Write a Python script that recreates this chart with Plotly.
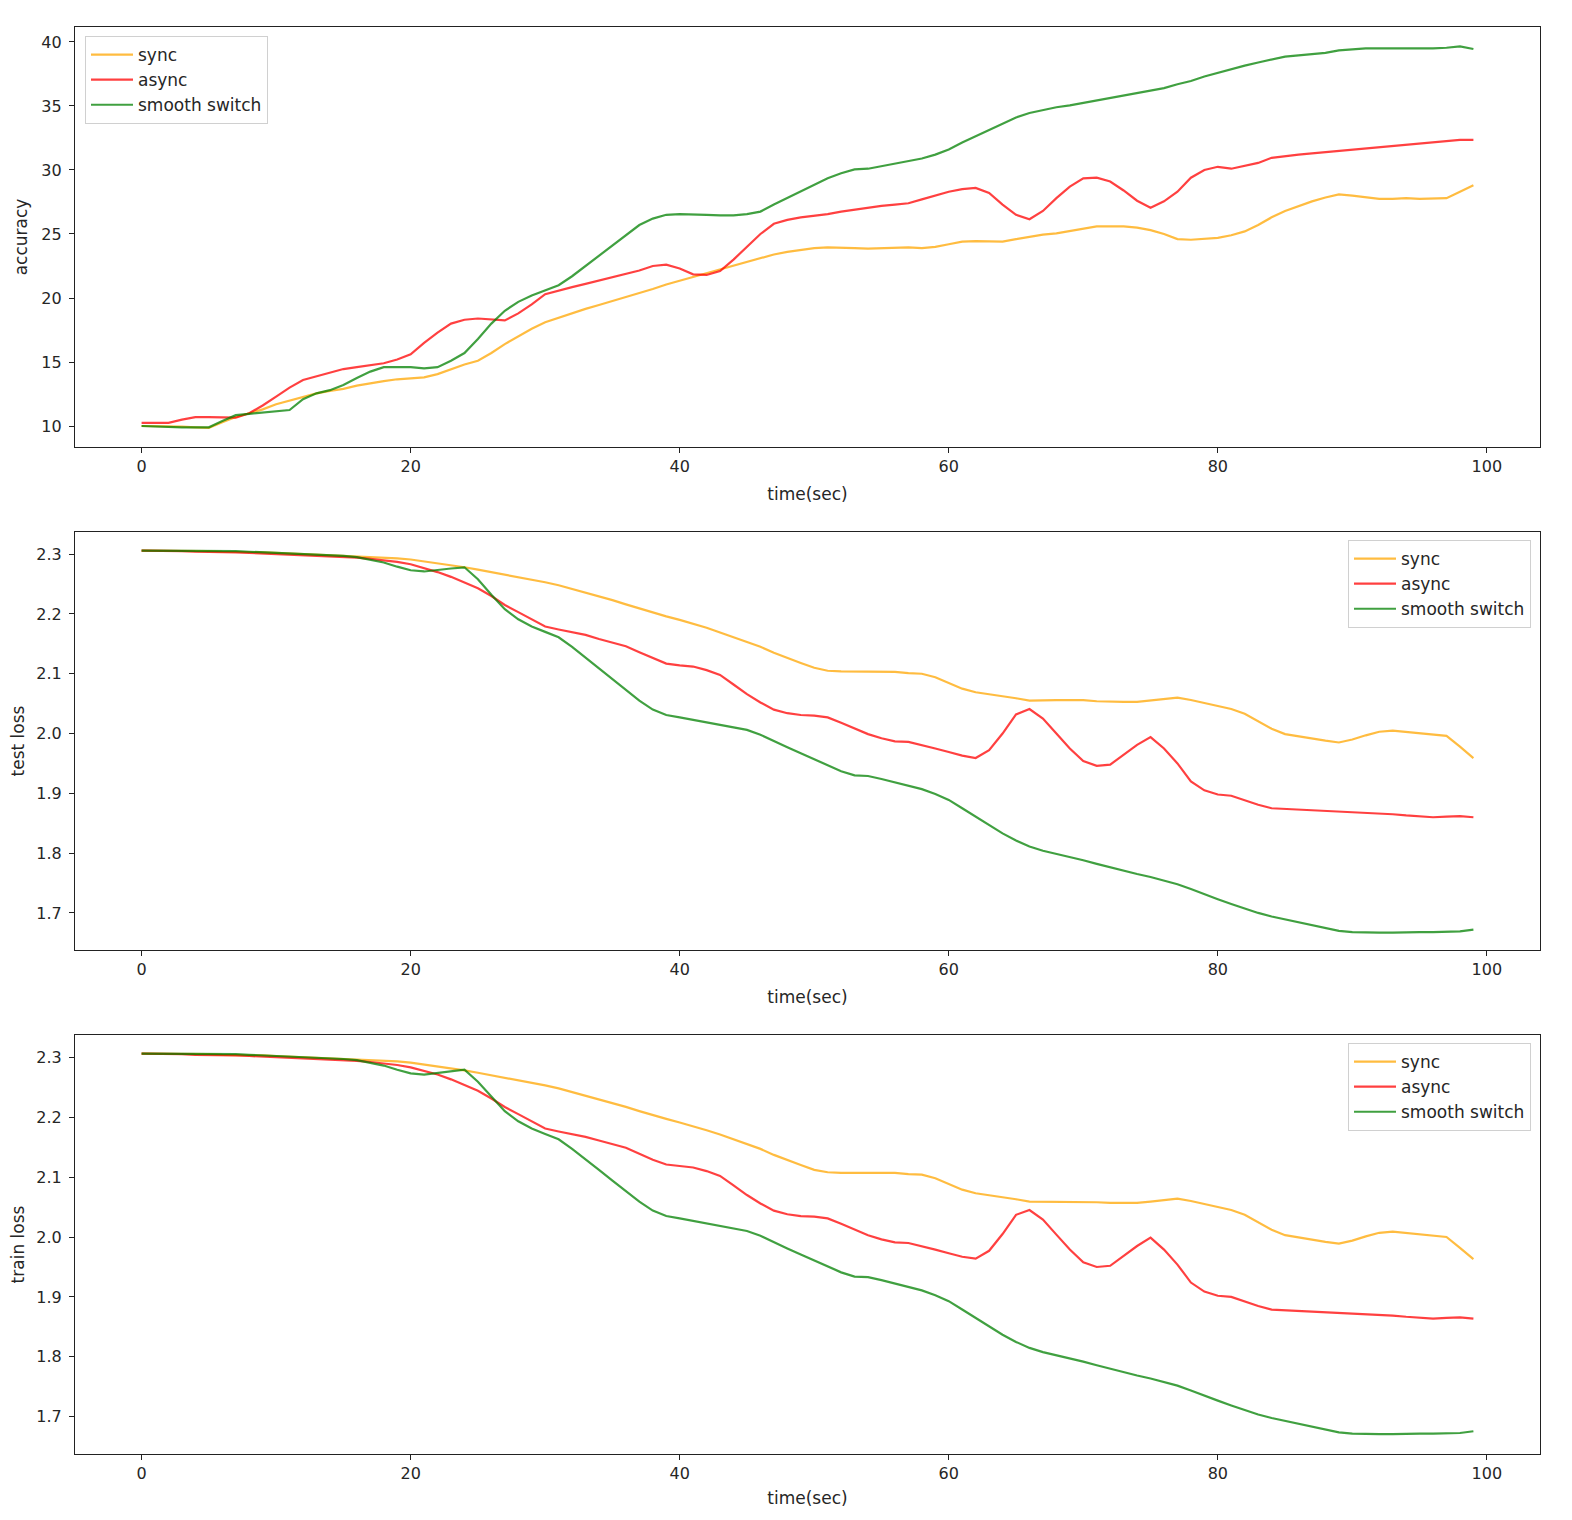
import plotly.graph_objects as go

# ---------------- data ----------------
time_sec = list(range(100))

acc_sync = [10.0, 10.0, 10.0, 9.95, 9.9, 9.85, 10.3, 10.7, 11.0, 11.3,
            11.7, 12.0, 12.3, 12.55, 12.75, 12.9, 13.15, 13.35, 13.5, 13.65,
            13.7, 13.8, 14.05, 14.45, 14.8, 15.1, 15.7, 16.4, 17.0, 17.6,
            18.1, 18.45, 18.85, 19.15, 19.45, 19.75, 20.05, 20.35, 20.7, 21.05,
            21.35, 21.65, 21.9, 22.2, 22.5, 22.85, 23.15, 23.4, 23.6, 23.75,
            23.9, 23.95, 23.95, 23.9, 23.85, 23.9, 23.95, 23.95, 23.9, 24.0,
            24.2, 24.4, 24.45, 24.4, 24.4, 24.6, 24.8, 24.95, 25.05, 25.25,
            25.45, 25.6, 25.6, 25.6, 25.5, 25.3, 25.0, 24.6, 24.55, 24.6,
            24.7, 24.9, 25.2, 25.7, 26.3, 26.8, 27.2, 27.55, 27.85, 28.1,
            28.0, 27.85, 27.75, 27.75, 27.8, 27.75, 27.75, 27.8, 28.3, 28.8]

acc_async = [10.25, 10.25, 10.25, 10.5, 10.7, 10.7, 10.7, 10.65, 11.0, 11.6,
             12.3, 13.0, 13.6, 13.9, 14.2, 14.45, 14.6, 14.75, 14.9, 15.2,
             15.6, 16.5, 17.3, 18.0, 18.3, 18.4, 18.35, 18.25, 18.8, 19.5,
             20.3, 20.6, 20.85, 21.1, 21.35, 21.6, 21.85, 22.15, 22.5, 22.6,
             22.3, 21.85, 21.8, 22.1, 23.0, 24.0, 25.0, 25.8, 26.1, 26.3,
             26.4, 26.55, 26.75, 26.9, 27.1, 27.2, 27.3, 27.4, 27.7, 28.0,
             28.3, 28.5, 28.6, 28.2, 27.3, 26.5, 26.15, 26.8, 27.8, 28.7,
             29.35, 29.4, 29.1, 28.4, 27.6, 27.05, 27.55, 28.3, 29.4, 30.0,
             30.25, 30.1, 30.35, 30.55, 30.95, 31.1, 31.2, 31.3, 31.4, 31.5,
             31.6, 31.7, 31.8, 31.9, 32.0, 32.1, 32.2, 32.3, 32.35, 32.35]

acc_smooth = [10.0, 9.95, 9.95, 9.9, 9.9, 9.9, 10.4, 10.85, 10.95, 11.05,
              11.15, 11.25, 12.1, 12.55, 12.8, 13.2, 13.75, 14.25, 14.6, 14.6,
              14.6, 14.5, 14.6, 15.1, 15.7, 16.8, 18.0, 19.0, 19.7, 20.2,
              20.6, 21.0, 21.7, 22.5, 23.3, 24.1, 24.9, 25.7, 26.2, 26.5,
              26.55, 26.55, 26.5, 26.45, 26.45, 26.55, 26.75, 27.3, 27.8, 28.35,
              28.85, 29.35, 29.75, 30.05, 30.1, 30.3, 30.5, 30.7, 30.9, 31.2,
              31.6, 32.15, 32.65, 33.15, 33.65, 34.1, 34.45, 34.7, 34.9, 35.05,
              35.25, 35.45, 35.65, 35.85, 36.05, 36.2, 36.4, 36.7, 36.95, 37.3,
              37.6, 37.9, 38.15, 38.4, 38.65, 38.85, 38.95, 39.05, 39.15, 39.35,
              39.45, 39.5, 39.5, 39.5, 39.45, 39.45, 39.5, 39.55, 39.65, 39.45]

test_sync = [2.306, 2.306, 2.306, 2.305, 2.305, 2.305, 2.304, 2.304, 2.303, 2.303,
             2.302, 2.301, 2.301, 2.300, 2.299, 2.298, 2.297, 2.296, 2.295, 2.293,
             2.291, 2.288, 2.285, 2.281, 2.278, 2.274, 2.270, 2.266, 2.262, 2.258,
             2.253, 2.248, 2.242, 2.236, 2.230, 2.223, 2.216, 2.209, 2.202, 2.196,
             2.190, 2.184, 2.177, 2.169, 2.161, 2.153, 2.145, 2.135, 2.126, 2.118,
             2.110, 2.105, 2.104, 2.104, 2.104, 2.104, 2.103, 2.101, 2.100, 2.094,
             2.084, 2.075, 2.069, 2.066, 2.063, 2.059, 2.055, 2.056, 2.056, 2.056,
             2.056, 2.054, 2.053, 2.053, 2.053, 2.055, 2.057, 2.060, 2.056, 2.051,
             2.046, 2.041, 2.033, 2.021, 2.008, 1.999, 1.995, 1.991, 1.988, 1.985,
             1.990, 1.997, 2.003, 2.005, 2.003, 2.000, 1.998, 1.996, 1.978, 1.959]

test_async = [2.306, 2.306, 2.305, 2.305, 2.304, 2.304, 2.303, 2.303, 2.302, 2.301,
              2.300, 2.300, 2.299, 2.298, 2.297, 2.296, 2.294, 2.292, 2.290, 2.287,
              2.283, 2.277, 2.270, 2.262, 2.253, 2.243, 2.230, 2.215, 2.203, 2.191,
              2.179, 2.174, 2.170, 2.165, 2.158, 2.152, 2.146, 2.136, 2.126, 2.117,
              2.114, 2.112, 2.106, 2.098, 2.082, 2.066, 2.052, 2.040, 2.034, 2.031,
              2.030, 2.027, 2.018, 2.008, 1.999, 1.992, 1.987, 1.986, 1.981, 1.975,
              1.969, 1.963, 1.959, 1.972, 2.000, 2.032, 2.041, 2.025, 2.000, 1.975,
              1.954, 1.946, 1.948, 1.965, 1.981, 1.994, 1.975, 1.950, 1.920, 1.905,
              1.898, 1.896, 1.888, 1.881, 1.875, 1.874, 1.873, 1.872, 1.871, 1.869,
              1.868, 1.867, 1.866, 1.865, 1.863, 1.861, 1.860, 1.861, 1.862, 1.860]

test_smooth = [2.306, 2.306, 2.306, 2.306, 2.306, 2.306, 2.305, 2.305, 2.304, 2.303,
               2.302, 2.301, 2.300, 2.300, 2.299, 2.297, 2.295, 2.291, 2.286, 2.279,
               2.273, 2.271, 2.274, 2.276, 2.278, 2.258, 2.232, 2.208, 2.191, 2.179,
               2.170, 2.161, 2.145, 2.127, 2.109, 2.091, 2.073, 2.055, 2.040, 2.031,
               2.027, 2.023, 2.019, 2.015, 2.011, 2.006, 1.998, 1.987, 1.977, 1.967,
               1.957, 1.947, 1.937, 1.930, 1.929, 1.924, 1.918, 1.913, 1.907, 1.899,
               1.889, 1.875, 1.861, 1.847, 1.833, 1.821, 1.811, 1.804, 1.799, 1.794,
               1.788, 1.782, 1.776, 1.770, 1.765, 1.760, 1.754, 1.748, 1.740, 1.731,
               1.723, 1.715, 1.707, 1.700, 1.694, 1.689, 1.684, 1.679, 1.674, 1.670,
               1.668, 1.667, 1.667, 1.667, 1.668, 1.668, 1.668, 1.668, 1.669, 1.672]

train_sync = [2.306, 2.306, 2.306, 2.305, 2.305, 2.305, 2.304, 2.304, 2.303, 2.303,
              2.302, 2.301, 2.301, 2.300, 2.299, 2.298, 2.297, 2.296, 2.295, 2.293,
              2.291, 2.288, 2.285, 2.281, 2.278, 2.274, 2.270, 2.266, 2.262, 2.258,
              2.253, 2.248, 2.242, 2.236, 2.230, 2.223, 2.217, 2.210, 2.203, 2.197,
              2.191, 2.185, 2.178, 2.171, 2.163, 2.155, 2.147, 2.137, 2.128, 2.120,
              2.112, 2.108, 2.107, 2.107, 2.108, 2.108, 2.107, 2.105, 2.104, 2.098,
              2.088, 2.079, 2.073, 2.070, 2.067, 2.063, 2.059, 2.059, 2.059, 2.059,
              2.059, 2.058, 2.057, 2.057, 2.057, 2.059, 2.061, 2.064, 2.060, 2.055,
              2.050, 2.045, 2.037, 2.025, 2.012, 2.003, 1.999, 1.995, 1.992, 1.989,
              1.994, 2.001, 2.007, 2.009, 2.007, 2.004, 2.002, 2.000, 1.982, 1.963]

train_async = [2.306, 2.306, 2.305, 2.305, 2.304, 2.304, 2.303, 2.303, 2.302, 2.301,
               2.300, 2.300, 2.299, 2.298, 2.297, 2.296, 2.294, 2.292, 2.290, 2.287,
               2.283, 2.277, 2.271, 2.263, 2.254, 2.244, 2.231, 2.217, 2.205, 2.193,
               2.181, 2.176, 2.172, 2.167, 2.161, 2.155, 2.149, 2.139, 2.129, 2.121,
               2.118, 2.116, 2.110, 2.102, 2.086, 2.070, 2.056, 2.044, 2.038, 2.035,
               2.034, 2.031, 2.022, 2.012, 2.003, 1.996, 1.991, 1.990, 1.985, 1.979,
               1.973, 1.967, 1.964, 1.977, 2.005, 2.037, 2.045, 2.029, 2.004, 1.979,
               1.958, 1.950, 1.952, 1.969, 1.985, 1.999, 1.979, 1.954, 1.924, 1.909,
               1.902, 1.900, 1.892, 1.885, 1.879, 1.878, 1.877, 1.876, 1.875, 1.873,
               1.872, 1.871, 1.870, 1.869, 1.867, 1.865, 1.864, 1.865, 1.866, 1.864]

train_smooth = [2.306, 2.306, 2.306, 2.306, 2.306, 2.306, 2.305, 2.305, 2.304, 2.303,
                2.302, 2.301, 2.300, 2.300, 2.299, 2.297, 2.295, 2.291, 2.286, 2.279,
                2.273, 2.271, 2.274, 2.277, 2.279, 2.259, 2.234, 2.210, 2.193, 2.181,
                2.172, 2.163, 2.147, 2.130, 2.112, 2.094, 2.076, 2.059, 2.044, 2.035,
                2.031, 2.027, 2.023, 2.019, 2.015, 2.010, 2.002, 1.991, 1.981, 1.971,
                1.961, 1.951, 1.941, 1.934, 1.933, 1.928, 1.922, 1.917, 1.911, 1.903,
                1.893, 1.879, 1.865, 1.851, 1.837, 1.825, 1.815, 1.808, 1.803, 1.798,
                1.792, 1.786, 1.780, 1.774, 1.769, 1.764, 1.758, 1.752, 1.744, 1.735,
                1.727, 1.719, 1.711, 1.704, 1.698, 1.693, 1.688, 1.683, 1.678, 1.674,
                1.672, 1.671, 1.671, 1.671, 1.672, 1.672, 1.672, 1.672, 1.673, 1.676]

series_names = ["sync", "async", "smooth switch"]
y_titles = ["accuracy", "test loss", "train loss"]
x_title = "time(sec)"
x_ticks = [0, 20, 40, 60, 80, 100]

panels = [
    [acc_sync, acc_async, acc_smooth],
    [test_sync, test_async, test_smooth],
    [train_sync, train_async, train_smooth],
]

# ---------------- style ----------------
colors = ["rgba(255,165,0,0.75)", "rgba(255,0,0,0.75)", "rgba(0,128,0,0.75)"]
FONT = "DejaVu Sans"
TXT = "#262626"

OFF = 8  # page body margin
W, H = 1554, 1500
# target plot-area edges in page pixels
PL, PR, PT, PB = 75, 1540, 27, 1454
ML, MR = PL - OFF, W - (PR - OFF)
MT, MB = PT - OFF, H - (PB - OFF)
plot_h = H - MT - MB
plot_w = W - ML - MR

def frac(py):
    return (PB - py) / plot_h

def fx(px):
    return (px - PL) / plot_w

domains = [(frac(447), frac(27)), (frac(950), frac(532)), (frac(1454), frac(1035))]
y_ranges = [(8.36, 41.17), (1.638, 2.337), (1.638, 2.337)]
legend_pos = [
    dict(x=fx(85), y=frac(36), xanchor="left", yanchor="top"),
    dict(x=fx(1531), y=frac(540), xanchor="right", yanchor="top"),
    dict(x=fx(1531), y=frac(1043), xanchor="right", yanchor="top"),
]

fig = go.Figure()
layout = dict(
    width=W, height=H,
    margin=dict(l=ML, r=MR, t=MT, b=MB, autoexpand=False),
    paper_bgcolor="white", plot_bgcolor="white",
    font=dict(family=FONT, size=16, color=TXT),
    showlegend=True,
)

for i, data in enumerate(panels):
    sfx = "" if i == 0 else str(i + 1)
    leg = "legend" + sfx
    for j, ys in enumerate(data):
        fig.add_trace(go.Scatter(
            x=time_sec, y=ys, mode="lines", name=series_names[j],
            line=dict(color=colors[j], width=2.2),
            xaxis="x" + sfx, yaxis="y" + sfx, legend=leg,
            legendgroup=f"{i}-{j}",
        ))
    axis_common = dict(
        showline=True, linecolor="#222", linewidth=1.2, mirror=True,
        ticks="outside", ticklen=5, tickwidth=1, tickcolor="#222",
        showgrid=False, zeroline=False, automargin=False,
        tickfont=dict(family=FONT, size=16, color=TXT),
    )
    layout["xaxis" + sfx] = dict(
        axis_common, domain=[0, 1], anchor="y" + sfx,
        range=[-4.95, 103.95], tickvals=x_ticks,
        title=dict(text=x_title, font=dict(family=FONT, size=17, color=TXT), standoff=12),
    )
    yr = y_ranges[i]
    yax = dict(
        axis_common, domain=list(domains[i]), anchor="x" + sfx,
        range=list(yr), ticklabelstandoff=4,
        title=dict(text=y_titles[i], font=dict(family=FONT, size=17, color=TXT), standoff=9),
    )
    if i == 0:
        yax.update(dtick=5, tick0=0)
    else:
        yax.update(dtick=0.1, tick0=0, tickformat=".1f")
    layout["yaxis" + sfx] = yax
    layout[leg] = dict(
        legend_pos[i],
        bgcolor="rgba(255,255,255,0.8)", bordercolor="#d0d0d0", borderwidth=1,
        font=dict(family=FONT, size=17, color=TXT),
        tracegroupgap=2, traceorder="normal", itemwidth=42,
    )

fig.update_layout(**layout)
fig.write_html("out.html")
